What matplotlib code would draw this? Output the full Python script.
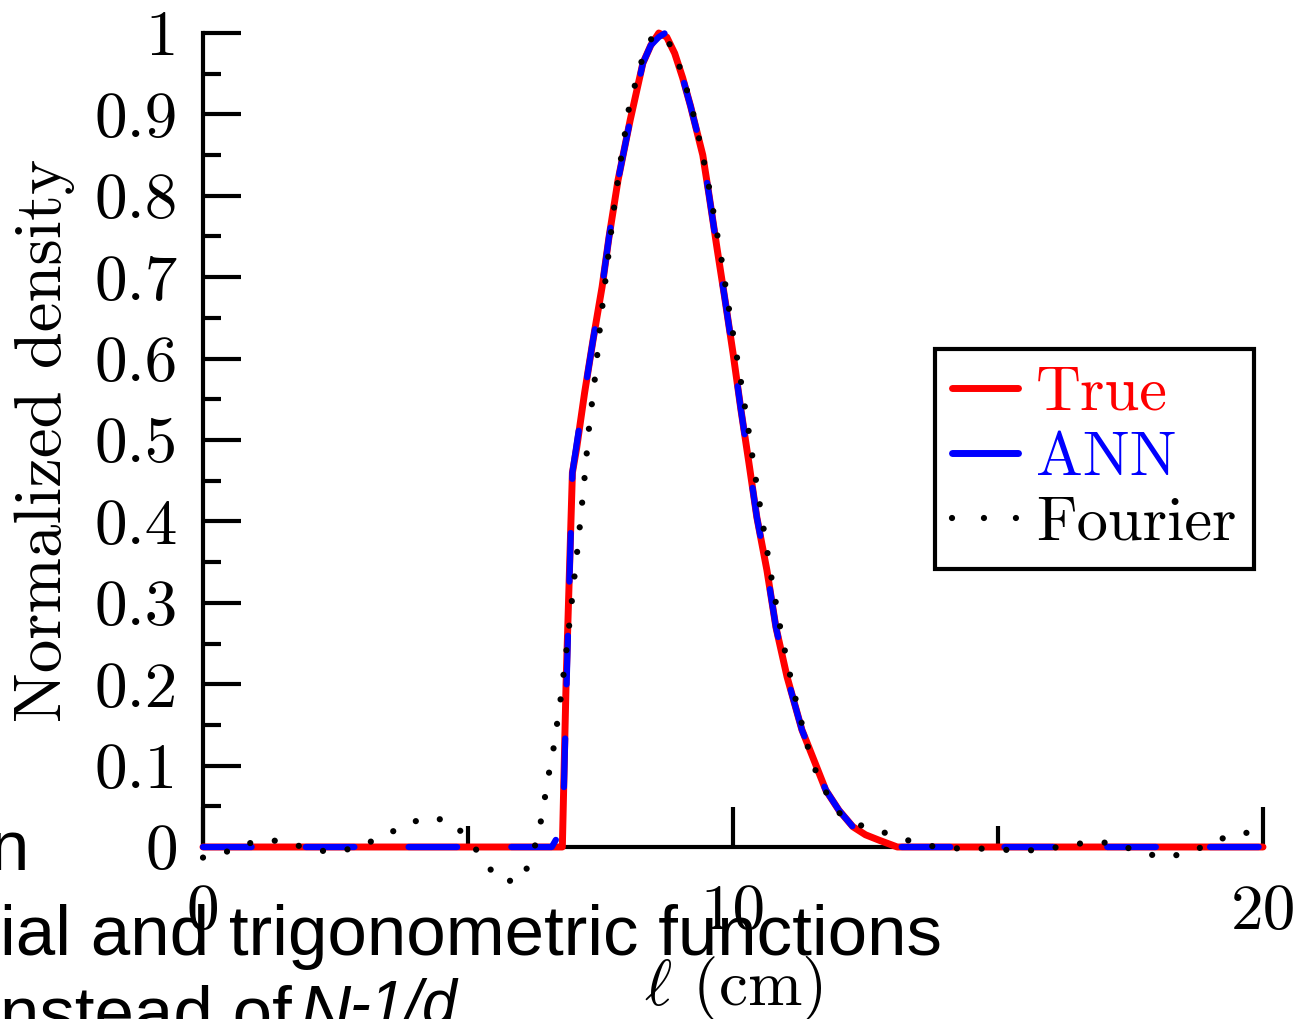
import matplotlib
matplotlib.use("Agg")
import matplotlib.pyplot as plt
from matplotlib.lines import Line2D

plt.rcParams["font.family"] = "cmr10"
plt.rcParams["mathtext.fontset"] = "cm"
plt.rcParams["axes.formatter.use_mathtext"] = True
plt.rcParams["lines.scale_dashes"] = False

# values
true_l = [0.0, 6.78, 6.85, 6.97, 7.05, 7.2, 7.36, 7.53, 7.66, 7.83, 8.06, 8.3,
          8.45, 8.6, 8.75, 8.9, 9.05, 9.2, 9.43, 9.55, 9.7, 9.85, 10.0, 10.15,
          10.3, 10.45, 10.64, 10.81, 11.02, 11.3, 11.55, 11.75, 12.0, 12.26,
          12.5, 12.77, 13.1, 20.0]
true_density = [0.0, 0.0, 0.2, 0.46, 0.49, 0.558, 0.623, 0.688, 0.749, 0.819,
                0.893, 0.963, 0.985, 1.0, 0.995, 0.975, 0.945, 0.91, 0.85, 0.80,
                0.735, 0.672, 0.607, 0.537, 0.472, 0.405, 0.34, 0.27, 0.209,
                0.144, 0.103, 0.07, 0.045, 0.025, 0.015, 0.008, 0.0, 0.0]

ann_l = [0.0, 6.58, 6.74, 6.8, 6.86, 6.97, 7.05, 7.2, 7.36, 7.53, 7.66, 7.83,
         8.06, 8.3, 8.45, 8.6, 8.72, 8.9, 9.05, 9.2, 9.43, 9.55, 9.7, 9.85,
         10.0, 10.15, 10.3, 10.45, 10.64, 10.81, 11.02, 11.3, 11.55, 11.75,
         12.0, 12.26, 12.5, 12.77, 13.1, 20.0]
ann_density = [0.0, 0.0, 0.018, 0.05, 0.2, 0.46, 0.495, 0.558, 0.623, 0.688,
               0.749, 0.819, 0.893, 0.963, 0.985, 0.995, 1.0, 0.975, 0.945,
               0.91, 0.85, 0.80, 0.735, 0.672, 0.607, 0.537, 0.472, 0.405,
               0.34, 0.27, 0.209, 0.144, 0.103, 0.07, 0.045, 0.025, 0.015,
               0.008, 0.0, 0.0]

fourier_l = [0.0, 0.49, 0.94, 1.42, 1.89, 2.36, 2.83, 3.3, 3.73, 4.17, 4.64,
             5.0, 5.28, 5.58, 6.0, 6.2, 6.34, 6.43, 6.51, 6.6, 6.75, 6.87,
             6.98, 7.09, 7.19, 7.28, 7.4, 7.5, 7.62, 7.74, 7.88, 8.04, 8.17,
             8.31, 8.45, 8.58, 8.75, 8.89, 9.06, 9.2, 9.32, 9.43, 9.53, 9.62,
             9.79, 9.94, 10.11, 10.27, 10.42, 10.58, 10.74, 10.92, 11.13,
             11.38, 11.53, 11.74, 12.0, 12.43, 12.89, 13.36, 13.83, 14.3,
             14.79, 15.28, 15.76, 16.23, 16.72, 17.19, 17.66, 18.13, 18.6,
             19.06, 19.49, 20.0]
fourier_density = [-0.013, -0.005, 0.006, 0.008, 0.0, -0.006, -0.002, 0.01,
                   0.024, 0.036, 0.033, 0.011, -0.015, -0.041, -0.042, -0.013,
                   0.019, 0.052, 0.085, 0.115, 0.183, 0.249, 0.315, 0.381,
                   0.447, 0.513, 0.579, 0.645, 0.711, 0.778, 0.843, 0.909,
                   0.941, 0.973, 0.992, 0.999, 0.992, 0.977, 0.946, 0.914,
                   0.882, 0.849, 0.817, 0.784, 0.719, 0.654, 0.588, 0.522,
                   0.456, 0.39, 0.325, 0.259, 0.195, 0.13, 0.098, 0.069, 0.042,
                   0.026, 0.017, 0.007, 0.0, -0.002, -0.002, -0.004, -0.004,
                   0.001, 0.006, 0.005, -0.006, -0.013, -0.007, 0.006, 0.017,
                   0.018]

x_major = [0, 10, 20]
x_minor = [5, 15]
x_labels = ["0", "10", "20"]
y_major = [0.0, 0.1, 0.2, 0.3, 0.4, 0.5, 0.6, 0.7, 0.8, 0.9, 1.0]
y_minor = [0.05, 0.15, 0.25, 0.35, 0.45, 0.55, 0.65, 0.75, 0.85, 0.95]
y_labels = ["0", "0.1", "0.2", "0.3", "0.4", "0.5", "0.6", "0.7", "0.8", "0.9", "1"]

W, H = 1297, 1019
fig = plt.figure(figsize=(W / 100, H / 100), dpi=100)
ax = fig.add_axes([203 / W, 1 - 847 / H, 1060 / W, 814 / H])

ax.plot(true_l, true_density, color="#ff0000", linewidth=5, solid_capstyle="round",
        solid_joinstyle="round", clip_on=False, zorder=3)
ax.plot(ann_l, ann_density, color="#0000ff", linewidth=4.5, dashes=(35, 39),
        dash_capstyle="round", clip_on=False, zorder=4)
ax.plot(fourier_l, fourier_density, color="black", linewidth=4.5, dashes=(0.01, 17.8),
        dash_capstyle="round", clip_on=False, zorder=5)

ax.set_xlim(0, 20)
ax.set_ylim(0, 1)
for side in ("top", "right"):
    ax.spines[side].set_visible(False)
for side in ("left", "bottom"):
    ax.spines[side].set_linewidth(3)
    ax.spines[side].set_zorder(2)

ax.set_xticks(x_major)
ax.set_xticks(x_minor, minor=True)
ax.set_xticklabels(x_labels)
ax.set_yticks(y_major)
ax.set_yticks(y_minor, minor=True)
ax.set_yticklabels(y_labels)
ax.tick_params(axis="both", which="major", direction="in", width=3, labelsize=47)
ax.tick_params(axis="x", which="major", length=29, pad=27)
ax.tick_params(axis="y", which="major", length=27, pad=18)
ax.tick_params(axis="x", which="minor", direction="in", width=3, length=15)
ax.tick_params(axis="y", which="minor", direction="in", width=3, length=13)

ax.set_xlabel(r"$\ell$ (cm)", fontsize=47, labelpad=8)
ax.set_ylabel("Normalized density", fontsize=48, labelpad=14)

handles = [
    Line2D([], [], color="#ff0000", linewidth=5, solid_capstyle="round"),
    Line2D([], [], color="#0000ff", linewidth=5, solid_capstyle="round"),
    Line2D([], [], color="black", linewidth=4.5, dashes=(0.01, 23), dash_capstyle="round"),
]
leg = ax.legend(handles, ["True", "ANN", "Fourier"], loc="upper left",
                bbox_to_anchor=(935 / W, 1 - 349 / H), bbox_transform=fig.transFigure,
                fontsize=45, handlelength=1.05, handletextpad=0.3, borderpad=0.27,
                labelspacing=0.15, borderaxespad=0, fancybox=False, framealpha=1,
                labelcolor="linecolor")
leg.get_frame().set_edgecolor("black")
leg.get_frame().set_linewidth(3)

# slide text lying over the figure
slide_font = dict(fontfamily="Liberation Sans", fontsize=51, color="black", zorder=10)
fig.text(29 / W, 1 - 870 / H, "n", ha="right", va="baseline", **slide_font)
fig.text(0, 1 - 955 / H, "ial and trigonometric functions", ha="left", va="baseline", **slide_font)
fig.text(0, 1 - 1035 / H, "nstead of", ha="left", va="baseline", **slide_font)
fig.text(300 / W, 1 - 1035 / H, "N", ha="left", va="baseline", style="italic", **slide_font)
fig.text(350 / W, 1 - 1024 / H, "-1/d", ha="left", va="baseline", style="italic",
         **{**slide_font, "fontsize": 45})

fig.savefig("out.png", dpi=100)
